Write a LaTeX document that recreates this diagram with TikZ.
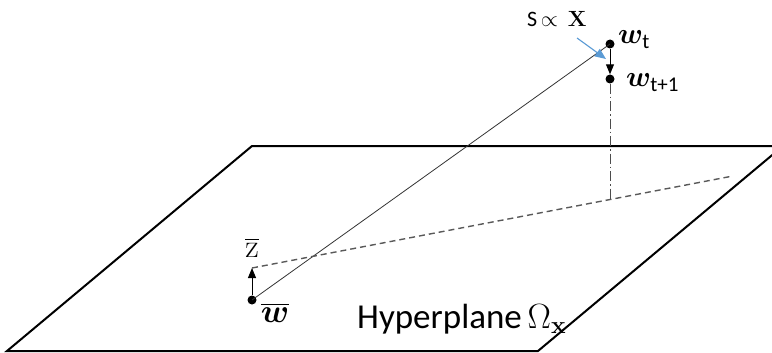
\RequirePackage{fix-cm}
\documentclass[tikz,border=0pt]{standalone}
\usepackage[no-math]{fontspec}
\setmainfont{Carlito}
\usepackage{amsmath,bm}
\usetikzlibrary{arrows.meta}
\begin{document}
\begin{tikzpicture}[x=1pt,y=-1pt,
  plane/.style={line width=2pt, line join=miter},
  dotnode/.style={circle, fill=black, inner sep=0pt, minimum size=9pt},
  thinline/.style={line width=0.8pt, draw=black!80},
  arr/.style={-{Triangle[length=10pt,width=8pt]}, line width=1pt},
  bluearr/.style={-{Triangle[length=11pt,width=9pt]}, line width=1.1pt, draw={rgb,255:red,91;green,155;blue,213}, fill={rgb,255:red,91;green,155;blue,213}},
  dashedline/.style={dash pattern=on 6pt off 4pt, line width=1.4pt, draw=black!65},
  dashdotline/.style={dash pattern=on 10pt off 3pt on 1.5pt off 3pt, line width=1pt, draw=black!70},
  mathlbl/.style={inner sep=0pt, font=\fontsize{29}{34}\selectfont},
  barlbl/.style={inner sep=0pt, font=\fontsize{33}{38}\selectfont},
  smalllbl/.style={inner sep=0pt, font=\fontsize{22}{26}\selectfont},
  biglbl/.style={inner sep=0pt, font=\fontsize{35}{40}\selectfont},
]
\useasboundingbox (0,0) rectangle (772,353);
\clip (0,0) rectangle (772,353);
% hyperplane
\coordinate (BL) at (7,351);
\coordinate (BR) at (538,351);
\coordinate (TR) at (783,146);
\coordinate (TL) at (252,146);
\draw[plane] (BL) -- (BR) -- (TR) -- (TL) -- cycle;
% points
\node[dotnode] (wbar) at (252,300) {};
\node[dotnode] (wt) at (610,44) {};
\node[dotnode] (wt1) at (610,79) {};
\coordinate (zbar) at (252,268);
\coordinate (proj) at (610,199.5);
\coordinate (dend) at (733,176);
\coordinate (sxs) at (577,38);
\coordinate (sxe) at (606,59);
% lines
\draw[thinline] (wbar.center) -- (wt.center);
\draw[dashedline] (zbar) -- (dend);
\draw[dashdotline] (wt1) -- (proj);
\draw[arr] (wbar) -- (zbar);
\draw[arr] (wt) -- (wt1);
\draw[bluearr] (sxs) -- (sxe);
% labels
\node[mathlbl, anchor=base west] (lwt) at (618,44) {$\bm{w}_{\text{\fontsize{21}{24}\selectfont t}}$};
\node[mathlbl, anchor=base west] (lwt1) at (626,87) {$\bm{w}_{\text{\fontsize{21}{24}\selectfont t+1}}$};
\node[barlbl] (lz) at (252,248) {$\overline{\mathrm{z}}$};
\node[barlbl] (lw) at (275,313) {$\overline{\bm{w}}$};
\node[smalllbl, anchor=base west] (lsx) at (527,27) {S\,$\propto\,\mathbf{X}$};
\node[biglbl, anchor=base west] (lhp) at (357,328) {Hyperplane\,$\Omega_{\mathbf{x}}$};
\end{tikzpicture}
\end{document}
